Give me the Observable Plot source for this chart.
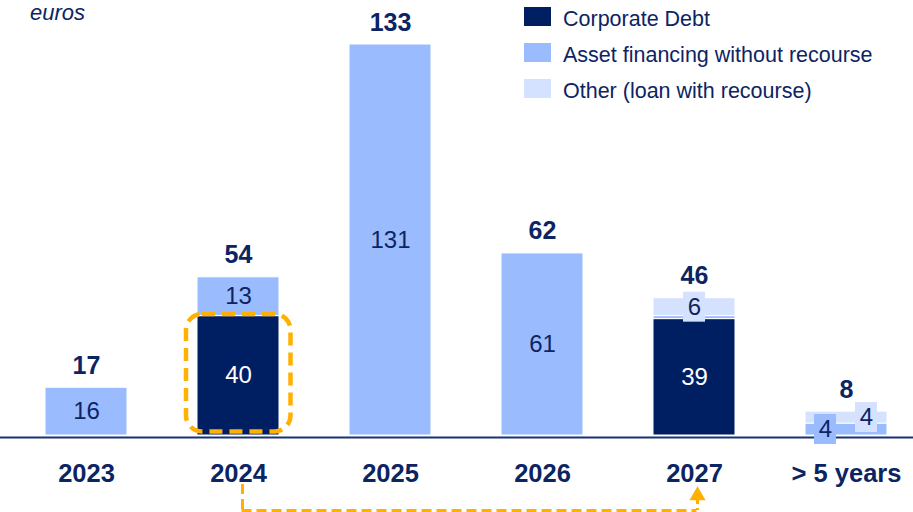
<!DOCTYPE html>
<html><head><meta charset="utf-8">
<script src="https://cdn.jsdelivr.net/npm/d3@7"></script>
<script src="https://cdn.jsdelivr.net/npm/@observablehq/plot@0.6"></script>
<style>
body{margin:0;background:#fff;}
#wrap{position:relative;width:913px;height:512px;font-family:"Liberation Sans",Arial,sans-serif;color:#0D2463;overflow:hidden}
#chart{position:absolute;left:0;top:0}
#unit{position:absolute;left:30px;top:1px;font-style:italic;font-size:22px;line-height:24px}
.sw{position:absolute;left:524px;width:27px;height:19px}
.lt{position:absolute;left:563px;font-size:21.5px;line-height:21.5px;white-space:nowrap}
</style></head><body>
<div id="wrap"><div id="chart"></div><div id="unit">euros</div><div id="legend"></div></div>
<script>
// ---- data ----
const categories = ["2023", "2024", "2025", "2026", "2027", "> 5 years"];
const seriesNames = ["Corporate Debt", "Asset financing without recourse", "Other (loan with recourse)"];
const corporateDebt  = [0, 40, 0,   0,  39, 0];
const assetFinancing = [16, 13, 131, 61, 1,  4];
const otherLoans     = [0, 0,  0,   0,  6,  4];
const totals         = [17, 54, 133, 62, 46, 8];
const highlighted = [{category: "2024", series: 0}];
const arrowFrom = "2024", arrowTo = "2027";

// ---- styles ----
const colors = ["#001E62", "#9BBBFF", "#D5E2FF"];
const navy = "#0D2463";
const orange = "#FFB000";
const font = "Liberation Sans, Arial, sans-serif";

const seriesArrays = [corporateDebt, assetFinancing, otherLoans];
const rows = [], labels = [], tops = [];
categories.forEach((c, i) => {
  let base = 0;
  const segs = [];
  seriesArrays.forEach((arr, s) => {
    const v = arr[i];
    if (v > 0) rows.push({category: c, series: seriesNames[s], value: v});
    if (v >= 2) segs.push({category: c, s, value: v, mid: base + v / 2, boxed: v < 10});
    base += v;
  });
  const nBoxed = segs.filter(d => d.boxed).length;
  segs.forEach(d => { d.shift = nBoxed > 1 ? (d.s === 1 ? -21 : 20) : 0; labels.push(d); });
  tops.push({category: c, top: base, total: totals[i]});
});
const hl = highlighted.map(h => {
  const i = categories.indexOf(h.category);
  let b = 0; for (let s = 0; s < h.series; s++) b += seriesArrays[s][i];
  return {category: h.category, y1: b, y2: b + seriesArrays[h.series][i]};
});

const textMarks = [];
for (const shift of [...new Set(labels.map(d => d.shift))]) {
  const grp = labels.filter(d => d.shift === shift);
  for (const s of [0, 1, 2]) {
    const boxes = grp.filter(d => d.s === s && d.boxed);
    if (boxes.length) textMarks.push(Plot.barY(boxes, {x: "category", y1: "mid", y2: "mid", fill: s === 1 ? colors[1] : colors[2],
      insetTop: -15, insetBottom: -15, insetLeft: 30 + shift, insetRight: 30 - shift}));
  }
  textMarks.push(Plot.text(grp.filter(d => d.s === 0), {x: "category", y: "mid", text: d => String(d.value), dx: shift,
    fill: "white", fontSize: 24, fontFamily: font, lineAnchor: "middle"}));
  textMarks.push(Plot.text(grp.filter(d => d.s !== 0), {x: "category", y: "mid", text: d => String(d.value), dx: shift,
    fill: navy, fontSize: 24, fontFamily: font, lineAnchor: "middle"}));
}

const chart = Plot.plot({
  width: 913, height: 512,
  marginTop: 44, marginBottom: 77, marginLeft: 0, marginRight: 0,
  style: {fontFamily: font, background: "white", overflow: "visible"},
  x: {domain: categories, range: [9, 924], paddingInner: 0.46, paddingOuter: 0.23, axis: null},
  y: {domain: [0, 131], axis: null},
  color: {domain: seriesNames, range: colors},
  marks: [
    Plot.ruleY([0], {stroke: "#1B3271", strokeWidth: 2, dy: 2}),
    Plot.barY(rows, {x: "category", y: "value", fill: "series", order: seriesNames, stroke: "white", strokeWidth: 1}),
    Plot.barY(hl, {x: "category", y1: "y1", y2: "y2", fill: "none", stroke: orange, strokeWidth: 4.5,
      strokeDasharray: "13,7", rx: 16, insetLeft: -11, insetRight: -11.5, insetTop: -1.6, insetBottom: 3.5}),
    ...textMarks,
    Plot.text(tops, {x: "category", y: "top", text: d => String(d.total), dy: -22, fill: navy,
      fontSize: 25, fontWeight: "bold", fontFamily: font, lineAnchor: "middle"}),
    Plot.text(categories, {x: d => d, frameAnchor: "bottom", dy: 38, text: d => d, fill: navy,
      fontSize: 25.5, fontWeight: "bold", fontFamily: font, lineAnchor: "middle"}),
    // dashed arrow from 2024 to 2027
    Plot.ruleX([arrowFrom], {x: d => d, dx: 4, insetTop: 440, insetBottom: -75, stroke: orange, strokeWidth: 3, strokeDasharray: "10,5"}),
    Plot.ruleY([0], {x1: () => arrowFrom, x2: () => arrowTo, dy: 75, insetLeft: 44.5, insetRight: 38.5, stroke: orange, strokeWidth: 3, strokeDasharray: "10,5"}),
    Plot.ruleX([arrowTo], {x: d => d, dx: 3, insetTop: 454, insetBottom: -75, stroke: orange, strokeWidth: 3, strokeDasharray: "6,4"}),
    Plot.dot([arrowTo], {x: d => d, frameAnchor: "bottom", dx: 3, dy: 60, symbol: "triangle", r: 6, fill: orange, stroke: "none"})
  ]
});
document.getElementById("chart").appendChild(chart);

const legend = document.getElementById("legend");
seriesNames.forEach((name, i) => {
  const sw = document.createElement("div");
  sw.className = "sw"; sw.style.top = (7 + 36 * i) + "px"; sw.style.background = colors[i];
  const t = document.createElement("div");
  t.className = "lt"; t.style.top = (9 + 36 * i) + "px"; t.textContent = name;
  legend.appendChild(sw); legend.appendChild(t);
});
</script>
</body></html>
